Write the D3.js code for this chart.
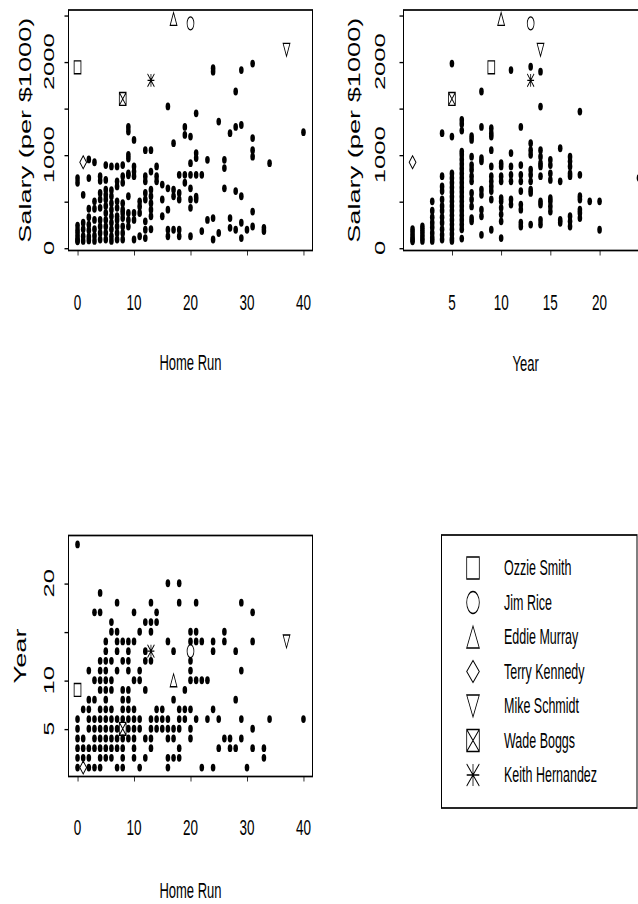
<!DOCTYPE html>
<html>
<head>
<meta charset="utf-8">
<script src="https://cdn.jsdelivr.net/npm/d3@7"></script>
<style>
  html, body { margin: 0; padding: 0; background: #fff; }
  svg { display: block; }
  text { font-family: "Liberation Sans", Arial, Helvetica, sans-serif; fill: #000; }
</style>
</head>
<body>
<div id="chart"></div>
<script>
// Home Run -> salaries (per $1000), read by column
const hrSalary = [
  [0, [750, 700, 240, 190, 150, 110, 80, 70]],
  [1, [570, 270, 200, 125, 75]],
  [2, [950, 750, 420, 330, 250, 190, 120, 80]],
  [3, [920, 500, 420, 300, 200, 130, 75]],
  [4, [770, 720, 590, 520, 430, 300, 230, 160, 90]],
  [5, [890, 730, 625, 570, 520, 450, 375, 300, 230, 160, 90]],
  [6, [875, 620, 555, 480, 410, 340, 270, 200, 125, 75]],
  [7, [875, 715, 660, 500, 430, 340, 300, 230, 160, 90]],
  [8, [890, 770, 700, 480, 410, 375, 320, 230, 160, 90]],
  [9, [1300, 1250, 1000, 960, 800, 780, 555, 375, 300, 230]],
  [10, [1160, 875, 820, 770, 375, 300, 90]],
  [11, [500, 445, 375, 125]],
  [12, [1050, 770, 715, 590, 520, 285, 195, 105]],
  [13, [1050, 820, 625, 555, 480, 410, 340, 200]],
  [14, [875, 770, 715]],
  [15, [680, 520, 340]],
  [16, [1520, 640, 410, 195, 125]],
  [17, [1125, 625, 555, 195]],
  [18, [785, 590, 520, 195, 125]],
  [19, [1300, 1214, 785, 700]],
  [20, [1196, 910, 785, 640, 520, 430, 125]],
  [21, [1446, 1018, 965, 785, 550, 520]],
  [22, [785, 180]],
  [23, [946, 300]],
  [24, [1930, 1893, 320, 90]],
  [25, [1357, 160]],
  [26, [946, 857, 640]],
  [27, [1232, 320, 215]],
  [28, [1680, 1300, 610, 195]],
  [29, [1910, 1320, 555, 270, 105]],
  [30, [195]],
  [31, [1980, 1180, 1050, 980, 390, 230]],
  [33, [215, 180]],
  [34, [910]],
  [40, [1243]]
];

// Year -> salaries
const yearSalary = [
  [1, [200, 160, 120, 90, 70]],
  [2, [230, 190, 150, 110, 75]],
  [3, [500, 400, 330, 270, 220, 160, 110, 75]],
  [4, [1232, 770, 660, 610, 520, 450, 400, 330, 270, 200, 140, 90]],
  [5, [1980, 1196, 800, 750, 700, 650, 600, 550, 500, 450, 400, 350, 300, 250, 200, 150, 100, 75]],
  [6, [1375, 1330, 1260, 1035, 1000, 950, 900, 850, 800, 750, 700, 650, 600, 550, 500, 450, 400, 350, 300, 250, 200, 100]],
  [7, [1200, 1160, 980, 890, 840, 770, 715, 590, 520, 445, 320, 285]],
  [8, [1680, 1300, 965, 930, 625, 570, 410, 340, 140]],
  [9, [1285, 1232, 1196, 1050, 875, 770, 715, 660, 610, 520, 195]],
  [10, [910, 875, 770, 715, 535, 500, 430, 360, 285, 105]],
  [11, [1910, 1018, 875, 785, 715, 520, 465]],
  [12, [1300, 890, 785, 715, 610, 465, 410, 270, 230]],
  [13, [1946, 1125, 1050, 1000, 840, 785, 715, 625, 590, 250]],
  [14, [1893, 1518, 1050, 980, 910, 875, 770, 500, 465, 300, 250]],
  [15, [946, 890, 800, 730, 535, 500, 445, 390]],
  [16, [1070, 715, 300, 270]],
  [17, [980, 930, 875, 800, 770, 340, 285, 230]],
  [18, [1464, 785, 555, 520, 410, 375, 320]],
  [19, [500]],
  [20, [500, 195]],
  [24, [750]]
];

// Year -> home runs, read by row
const yearHR = [
  [24, [0]],
  [20, [16, 18]],
  [19, [4]],
  [18, [7, 13, 18, 21, 29]],
  [17, [3, 4, 10, 14, 31]],
  [16, [6, 12, 13, 14]],
  [15, [6, 7, 11, 13, 20, 21, 26]],
  [14, [5, 7, 8, 9, 10, 16, 20, 21, 22, 24, 26, 31]],
  [13, [5, 7, 9, 12, 17, 24, 28]],
  [12, [4, 5, 6, 8, 9, 12, 13, 20]],
  [11, [2, 4, 5, 7, 9, 11, 20, 29]],
  [10, [3, 4, 5, 6, 10, 11, 20, 21, 22, 23]],
  [9, [4, 5, 6, 8, 9, 12, 19]],
  [8, [2, 3, 5, 8, 9, 17, 28]],
  [7, [1, 2, 4, 5, 6, 8, 9, 10, 14, 15, 18, 19, 20, 24]],
  [6, [0, 2, 3, 4, 5, 6, 7, 8, 9, 10, 11, 13, 14, 15, 16, 18, 19, 21, 23, 25, 29, 34, 40]],
  [5, [0, 2, 3, 4, 5, 6, 7, 9, 10, 11, 13, 14, 15, 16, 17, 18, 20, 31]],
  [4, [0, 1, 3, 4, 5, 6, 7, 8, 9, 10, 12, 13, 16, 17, 20, 26, 27, 29]],
  [3, [0, 1, 2, 3, 4, 5, 6, 7, 8, 10, 13, 18, 25, 27, 28, 31, 33]],
  [2, [0, 1, 2, 4, 5, 6, 8, 10, 12, 16, 17, 18, 33]],
  [1, [0, 2, 3, 4, 7, 8, 11, 16, 22, 24, 30]]
];

// highlighted players
const players = ["Ozzie Smith", "Jim Rice", "Eddie Murray", "Terry Kennedy", "Mike Schmidt", "Wade Boggs", "Keith Hernandez"];
const playerSymbols = ["square", "circle", "triUp", "diamond", "triDown", "squareX", "star"];
const playerHR = [0, 20, 17, 1, 37, 8, 13];
const playerYears = [9, 13, 10, 1, 14, 5, 13];
const playerSalary = [1940, 2412, 2460, 920, 2127, 1600, 1800];

const hrTicks = [0, 10, 20, 30, 40];
const yearTicks = [5, 10, 15, 20];
const salaryTicks = [0, 500, 1000, 1500, 2000, 2500];
const salaryLabels = [0, 1000, 2000];
const yearAxisLabels = [5, 10, 20];

// the picture is stretched vertically; draw in a squashed viewBox
const W = 638, H = 904, K = 1.7;
const pv = v => v / K;

const svg = d3.select("#chart").append("svg")
  .attr("width", W).attr("height", H)
  .attr("viewBox", `0 0 ${W} ${H / K}`)
  .attr("preserveAspectRatio", "none");

function markerPath(type, rx, ry) {
  switch (type) {
    case "square": return `M${-rx},${-ry}H${rx}V${ry}H${-rx}Z`;
    case "triUp": return `M0,${-ry}L${rx},${ry}L${-rx},${ry}Z`;
    case "triDown": return `M${-rx},${-ry}L${rx},${-ry}L0,${ry}Z`;
    case "diamond": return `M0,${-ry}L${rx},0L0,${ry}L${-rx},0Z`;
    case "squareX": return `M${-rx},${-ry}H${rx}V${ry}H${-rx}ZM${-rx},${-ry}L${rx},${ry}M${rx},${-ry}L${-rx},${ry}`;
    case "star": return `M0,${-ry}V${ry}M${-rx},0H${rx}M${-rx},${-ry}L${rx},${ry}M${rx},${-ry}L${-rx},${ry}`;
    case "circle": {
      return `M${-rx},0A${rx},${ry} 0 1,0 ${rx},0A${rx},${ry} 0 1,0 ${-rx},0Z`;
    }
  }
}

const flatten = (cols, colIsX) => cols.flatMap(([k, vals]) => vals.map(v => colIsX ? [k, v] : [v, k]));

function drawPanel(cfg) {
  const g = svg.append("g");
  const x = d3.scaleLinear().domain(cfg.xDomain).range([cfg.left, cfg.right]);
  const y = d3.scaleLinear().domain(cfg.yDomain).range([pv(cfg.bottom), pv(cfg.top)]);

  // points
  g.selectAll("circle.pt")
    .data(cfg.points)
    .enter().append("circle")
    .attr("class", "pt")
    .attr("cx", d => x(d[0]))
    .attr("cy", d => y(d[1]))
    .attr("r", 2.3)
    .attr("fill", "#000");

  // highlighted players
  g.selectAll("path.player")
    .data(players.map((p, i) => i))
    .enter().append("path")
    .attr("class", "player")
    .attr("transform", i => `translate(${x(cfg.px[i])},${y(cfg.py[i])})`)
    .attr("d", i => markerPath(playerSymbols[i], 3.4, 3.8))
    .attr("fill", "none")
    .attr("stroke", "#000")
    .attr("stroke-width", 0.8);

  // frame
  g.append("rect")
    .attr("x", cfg.left).attr("y", pv(cfg.top))
    .attr("width", cfg.right - cfg.left)
    .attr("height", pv(cfg.bottom - cfg.top))
    .attr("fill", "none").attr("stroke", "#000").attr("stroke-width", 1);

  // axes (ticks only; labels drawn separately)
  const xAxis = g.append("g")
    .attr("transform", `translate(0,${pv(cfg.bottom)})`)
    .call(d3.axisBottom(x).tickValues(cfg.xTicks).tickSize(3).tickFormat(""));
  const yAxis = g.append("g")
    .attr("transform", `translate(${cfg.left},0)`)
    .call(d3.axisLeft(y).tickValues(cfg.yTicks).tickSize(4).tickFormat(""));
  [xAxis, yAxis].forEach(a => {
    a.select(".domain").remove();
    a.selectAll("line").attr("stroke", "#000").attr("stroke-width", 0.8);
  });

  g.selectAll("text.xtick")
    .data(cfg.xTicks)
    .enter().append("text")
    .attr("class", "xtick")
    .attr("x", d => x(d))
    .attr("y", pv(cfg.xTickBase))
    .attr("text-anchor", "middle")
    .attr("font-size", 13.5)
    .text(d => d);

  g.selectAll("text.ytick")
    .data(cfg.yLabels)
    .enter().append("text")
    .attr("class", "ytick")
    .attr("transform", d => `translate(${cfg.yTickBase},${y(d)}) rotate(-90)`)
    .attr("text-anchor", "middle")
    .attr("font-size", 15)
    .text(d => d);

  g.append("text")
    .attr("x", (cfg.left + cfg.right) / 2)
    .attr("y", pv(cfg.xTitleBase))
    .attr("text-anchor", "middle")
    .attr("font-size", 13)
    .text(cfg.xTitle);

  g.append("text")
    .attr("transform", `translate(${cfg.yTitleBase},${pv((cfg.top + cfg.bottom) / 2)}) rotate(-90)`)
    .attr("text-anchor", "middle")
    .attr("font-size", 16)
    .text(cfg.yTitle);
}

// Home Run vs Salary
drawPanel({
  left: 68.5, right: 312.5, top: 10, bottom: 250.5,
  xDomain: [-1.6, 41.6], yDomain: [-28.2, 2555.7],
  points: flatten(hrSalary, true),
  px: playerHR, py: playerSalary,
  xTicks: hrTicks, yTicks: salaryTicks, yLabels: salaryLabels,
  xTickBase: 310.5, xTitleBase: 370, yTickBase: 53.5, yTitleBase: 31,
  xTitle: "Home Run", yTitle: "Salary (per $1000)"
});

// Year vs Salary
drawPanel({
  left: 403.5, right: 648, top: 10, bottom: 250.5,
  xDomain: [0.08, 24.92], yDomain: [-28.2, 2555.7],
  points: flatten(yearSalary, true),
  px: playerYears, py: playerSalary,
  xTicks: yearTicks, yTicks: salaryTicks, yLabels: salaryLabels,
  xTickBase: 310.5, xTitleBase: 371, yTickBase: 385, yTitleBase: 360,
  xTitle: "Year", yTitle: "Salary (per $1000)"
});

// Home Run vs Year
drawPanel({
  left: 68.5, right: 312.5, top: 535.5, bottom: 776.5,
  xDomain: [-1.6, 41.6], yDomain: [0.08, 24.92],
  points: flatten(yearHR, false),
  px: playerHR, py: playerYears,
  xTicks: hrTicks, yTicks: yearTicks, yLabels: yearAxisLabels,
  xTickBase: 835.5, xTitleBase: 898, yTickBase: 53.5, yTitleBase: 26,
  xTitle: "Home Run", yTitle: "Year"
});

// legend
const legend = svg.append("g");
legend.append("rect")
  .attr("x", 441.5).attr("y", pv(535))
  .attr("width", 637 - 441.5).attr("height", pv(808 - 535))
  .attr("fill", "none").attr("stroke", "#000").attr("stroke-width", 1);

const legendY = d3.scalePoint().domain(players).range([568, 775]);

const item = legend.selectAll("g.item")
  .data(players)
  .enter().append("g")
  .attr("class", "item");

item.append("path")
  .attr("transform", d => `translate(473,${pv(legendY(d))})`)
  .attr("d", (d, i) => markerPath(playerSymbols[i], 6.3, 6.5))
  .attr("fill", "none")
  .attr("stroke", "#000")
  .attr("stroke-width", 0.8);

item.append("text")
  .attr("x", 504)
  .attr("y", d => pv(legendY(d) + 7.5))
  .attr("font-size", 12.5)
  .text(d => d);
</script>
</body>
</html>
